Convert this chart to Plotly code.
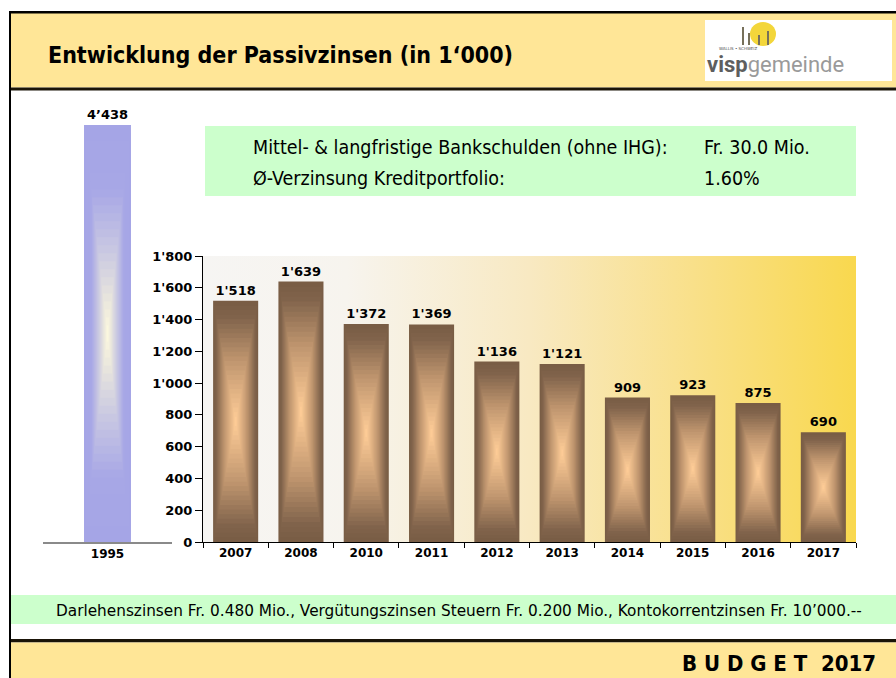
import plotly.graph_objects as go

W, H = 896, 678

# ---------------- data ----------------
years = ["2007", "2008", "2010", "2011", "2012", "2013", "2014", "2015", "2016", "2017"]
values = [1518, 1639, 1372, 1369, 1136, 1121, 909, 923, 875, 690]
ref_years = ["1995"]
ref_values = [4438]
y_tick_vals = [0, 200, 400, 600, 800, 1000, 1200, 1400, 1600, 1800]

title_text = "Entwicklung der Passivzinsen (in 1‘000)"
info_labels = ["Mittel- & langfristige Bankschulden (ohne IHG):", "Ø-Verzinsung Kreditportfolio:"]
info_values = ["Fr. 30.0 Mio.", "1.60%"]
note_text = ("Darlehenszinsen Fr. 0.480 Mio., Vergütungszinsen Steuern Fr. 0.200 Mio., "
             "Kontokorrentzinsen Fr. 10’000.--")
footer_text = "B U D G E T  2017"

COND = "Liberation Sans Narrow, DejaVu Sans Condensed, sans-serif"
SANS = "DejaVu Sans, Verdana, sans-serif"


def fmt(v, sep="'"):
    return f"{v:,}".replace(",", sep)


def px(x):
    return x / W


def py(y):
    return 1 - y / H


def lerp_color(stops, t):
    for (t0, c0), (t1, c1) in zip(stops[:-1], stops[1:]):
        if t0 <= t <= t1:
            f = 0 if t1 == t0 else (t - t0) / (t1 - t0)
            c = [round(a + (b - a) * f) for a, b in zip(c0, c1)]
            return f"rgb({c[0]},{c[1]},{c[2]})"
    c = stops[-1][1]
    return f"rgb({c[0]},{c[1]},{c[2]})"


fig = go.Figure()

# background gradient of the main plot area (base subplot x/y)
fig.add_trace(go.Scatter(
    x=[0, 1, 1, 0, 0], y=[0, 0, 1, 1, 0], mode="lines", fill="toself",
    line=dict(width=0),
    fillgradient=dict(type="horizontal",
                      colorscale=[[0, "#F6F5F3"], [0.22, "#F7F4EE"], [0.5, "#F8E9C2"],
                                  [0.75, "#F9E08A"], [1, "#F9D84E"]]),
    hoverinfo="skip", showlegend=False, xaxis="x", yaxis="y"))

# main bars: concentric rectangles give the "rectangular" gradient
N = 26
brown = [(0, (121, 93, 69)), (0.12, (128, 99, 75)), (0.5, (192, 150, 111)), (1, (253, 203, 150))]
BW = 0.69
labfont = dict(family=SANS, size=13, color="black", weight="bold")
for i in range(N):
    s = 1 - i / N
    t = i / (N - 1)
    kw = {}
    if i == 0:
        kw = dict(text=[fmt(v) for v in values], textposition="outside", textfont=labfont)
    fig.add_trace(go.Bar(
        x=years, y=[v * s for v in values], base=[v * (1 - s) / 2 for v in values],
        width=BW * s, marker=dict(color=lerp_color(brown, t), line=dict(width=0)),
        hoverinfo="skip", showlegend=False, cliponaxis=False,
        xaxis="x2", yaxis="y2", **kw))

# 1995 reference bar
blue = [(0, (165, 165, 230)), (0.3, (167, 167, 230)), (0.6, (200, 199, 226)),
        (0.85, (232, 229, 221)), (1, (251, 247, 222))]
for i in range(N):
    s = 1 - i / N
    t = i / (N - 1)
    kw = {}
    if i == 0:
        kw = dict(text=[fmt(v, "’") for v in ref_values], textposition="outside", textfont=labfont)
    fig.add_trace(go.Bar(
        x=ref_years, y=[v * s for v in ref_values], base=[v * (1 - s) / 2 for v in ref_values],
        width=0.364 * s, marker=dict(color=lerp_color(blue, t), line=dict(width=0)),
        hoverinfo="skip", showlegend=False, cliponaxis=False,
        xaxis="x3", yaxis="y3", **kw))

main_dom_x = [px(203), px(856)]
main_dom_y = [py(542), py(256)]
ref_top_px = 100
ymax3 = ref_values[0] * (542 - ref_top_px) / (542 - 125)

xtickfont = dict(family=SANS, size=12, color="black", weight="bold")
ytickfont = dict(family=SANS, size=13, color="black", weight="bold")

fig.update_layout(
    width=W, height=H, autosize=False,
    margin=dict(l=0, r=0, t=0, b=0, autoexpand=False),
    paper_bgcolor="white", plot_bgcolor="rgba(0,0,0,0)",
    barmode="overlay", showlegend=False,
    xaxis=dict(domain=main_dom_x, range=[0, 1], visible=False, fixedrange=True, anchor="y",
               automargin=False),
    yaxis=dict(domain=main_dom_y, range=[0, 1], visible=False, fixedrange=True, anchor="x",
               automargin=False),
    xaxis2=dict(overlaying="x", anchor="y2", type="category", categoryorder="array",
                categoryarray=years, range=[-0.5, len(years) - 0.5],
                showline=True, linecolor="black", linewidth=1, ticks="outside",
                tickson="boundaries", ticklen=5, tickcolor="black", tickfont=xtickfont,
                showgrid=False, zeroline=False, fixedrange=True, automargin=False),
    yaxis2=dict(overlaying="y", anchor="x2", range=[0, 1800], tickvals=y_tick_vals,
                ticktext=[fmt(v) for v in y_tick_vals], showline=True, linecolor="black",
                linewidth=1, ticks="outside", ticklen=7, tickcolor="black",
                tickfont=ytickfont, showgrid=False, zeroline=False, fixedrange=True,
                automargin=False),
    xaxis3=dict(domain=[px(43), px(172)], anchor="y3", type="category",
                showline=True, linecolor="#8a8a8a", linewidth=1.5, ticks="",
                tickfont=xtickfont, showgrid=False, zeroline=False, fixedrange=True,
                automargin=False),
    yaxis3=dict(domain=[py(542), py(ref_top_px)], anchor="x3", range=[0, ymax3],
                visible=False, fixedrange=True, automargin=False),
)

# ---------------- page decoration ----------------
shapes = []


def rect(x0, y0, x1, y1, color, layer="below"):
    shapes.append(dict(type="rect", xref="paper", yref="paper",
                       x0=px(x0), x1=px(x1), y0=py(y1), y1=py(y0),
                       fillcolor=color, line=dict(width=0), layer=layer))


YEL = "#FFE697"
GRN = "#CCFFCC"
rect(10, 13, 896, 87.5, YEL)            # header band
rect(9, 11, 896, 13.5, "black")         # top border
rect(9, 11, 11, 678, "black")           # left border
rect(11, 87.5, 896, 90.5, "#1a1408")    # header bottom line
rect(705, 20, 892, 81, "white")         # logo box
rect(205, 126, 856, 196, GRN)           # info box
rect(11, 595, 896, 624, GRN)            # note strip
rect(11, 639, 896, 642.5, "#1a1408")    # footer line
rect(11, 642.5, 896, 678, YEL)          # footer band

# little logo: sun + towers
shapes.append(dict(type="circle", xref="paper", yref="paper",
                   x0=px(750), x1=px(776), y0=py(46), y1=py(22),
                   fillcolor="#F3D63A", line=dict(width=0), layer="above"))
for x0, x1, y0 in [(742, 744, 27), (748, 750, 33), (758, 760, 35), (767, 769, 31)]:
    rect(x0, y0, x1, 45, "#77705a", layer="above")
fig.update_layout(shapes=shapes)

ann = []


def text(x, y, s, size, family, color="black", xanchor="left", weight="normal"):
    ann.append(dict(x=px(x), y=py(y), xref="paper", yref="paper", text=s,
                    showarrow=False, xanchor=xanchor, yanchor="middle",
                    font=dict(family=family, size=size, color=color, weight=weight)))


text(46, 55, title_text, 23, COND, weight="bold")
for i, (lab, val) in enumerate(zip(info_labels, info_values)):
    yy = 147 + i * 31
    text(251, yy, lab, 19.5, COND)
    text(702, yy, val, 19.5, COND)
text(459, 611, note_text, 15.3, SANS, xanchor="center")
text(878, 663, footer_text, 22, COND, xanchor="right", weight="bold")
text(717, 48.5, "WALLIS • SCHWEIZ", 4, SANS, color="#555")
ann.append(dict(x=px(705), y=py(64), xref="paper", yref="paper",
                text="<b>visp</b><span style='color:#9a9a9a'>gemeinde</span>",
                showarrow=False, xanchor="left", yanchor="middle",
                font=dict(family="Roboto, DejaVu Sans, sans-serif", size=22, color="#5e5e5e")))
fig.update_layout(annotations=ann)

fig.write_html(
    "out.html",
    config={"displayModeBar": False, "staticPlot": True},
    post_script=("document.body.style.margin='0';document.body.style.overflow='hidden';"
                 "var gd=document.getElementById('{plot_id}');gd.style.position='fixed';"
                 "gd.style.top='0px';gd.style.left='0px';"),
)
